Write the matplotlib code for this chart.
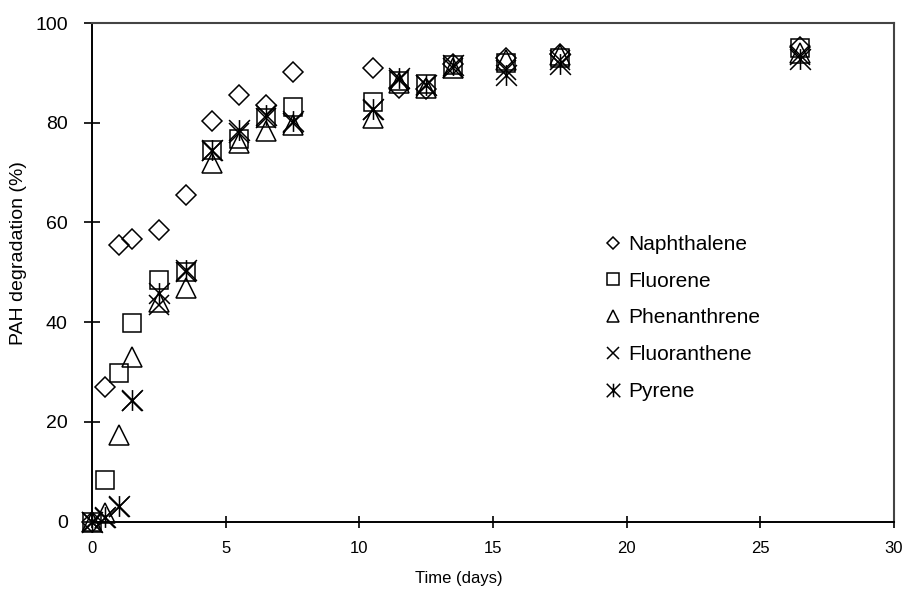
import matplotlib
matplotlib.use("Agg")
import matplotlib.pyplot as plt
from matplotlib.path import Path

plt.rcParams['font.family'] = ['Liberation Sans', 'DejaVu Sans']

# ---- data ----
time_days = [0, 0.5, 1, 1.5, 2.5, 3.5, 4.5, 5.5, 6.5, 7.5, 10.5, 11.5, 12.5, 13.5, 15.5, 17.5, 26.5]
naphthalene = [0, 27.0, 55.5, 56.7, 58.4, 65.6, 80.3, 85.6, 83.6, 90.1, 90.9, 87.0, 86.8, 91.8, 93.0, 93.8, 95.2]
fluorene = [0, 8.4, 29.8, 39.9, 48.5, 50.0, 74.5, 76.7, 81.0, 83.2, 84.2, 88.3, 87.8, 91.5, 92.0, 93.0, 95.0]
phenanthrene = [0, 1.8, 17.4, 33.1, 44.0, 46.8, 72.0, 76.0, 78.3, 79.6, 81.0, 88.0, 87.0, 91.0, 92.5, 93.5, 94.0]
fluoranthene = [0, 0.8, 3.0, 24.3, 43.5, 50.0, 74.3, 78.0, 81.0, 80.0, 82.5, 88.5, 87.5, 91.0, 90.5, 92.5, 93.5]
pyrene = [0, 1.0, 3.2, 24.5, 45.8, 50.5, 74.5, 78.5, 81.5, 80.3, 82.8, 89.0, 87.5, 91.5, 89.6, 91.8, 92.8]

series_names = ["Naphthalene", "Fluorene", "Phenanthrene", "Fluoranthene", "Pyrene"]
x_ticks = [0, 5, 10, 15, 20, 25, 30]
y_ticks = [0, 20, 40, 60, 80, 100]

# asterisk marker: X plus vertical bar
ast = Path([(-1, -1), (1, 1), (-1, 1), (1, -1), (0, -1), (0, 1)],
           [Path.MOVETO, Path.LINETO, Path.MOVETO, Path.LINETO, Path.MOVETO, Path.LINETO])

styles = [
    dict(marker='D', ms=10.0),
    dict(marker='s', ms=13.0),
    dict(marker='^', ms=14.0),
    dict(marker='x', ms=14.0),
    dict(marker=ast, ms=15.0),
]
values = [naphthalene, fluorene, phenanthrene, fluoranthene, pyrene]

fig = plt.figure(figsize=(9.06, 5.92), dpi=100)
ax = fig.add_axes([92/906, 1-521.7/592, (894-92)/906, (521.7-23)/592])

handles = []
for name, vals, st in zip(series_names, values, styles):
    h, = ax.plot(time_days, vals, linestyle='none', marker=st['marker'], ms=st['ms'],
                 mfc='none', mec='black', mew=1.1, label=name, clip_on=False)
    handles.append(h)

ax.set_xlim(0, 30)
ax.set_ylim(0, 100)
ax.set_xticks(x_ticks)
ax.set_yticks(y_ticks)

for s in ['left', 'bottom']:
    ax.spines[s].set_color('black')
    ax.spines[s].set_linewidth(1.4)
for s in ['top', 'right']:
    ax.spines[s].set_color('#444444')
    ax.spines[s].set_linewidth(1.5)

ax.tick_params(axis='y', direction='inout', length=11, width=1.2, pad=12, labelsize=14)
ax.tick_params(axis='x', direction='inout', length=8.5, width=1.2, pad=10, labelsize=12)

ax.set_xlabel("Time (days)", fontsize=12)
ax.set_ylabel("PAH degradation (%)", fontsize=14)
# label positions in axes coordinates
ax.xaxis.set_label_coords((459 - 92) / 802, -(578 - 521.7) / 498.7)
ax.yaxis.set_label_coords(-(92 - 18) / 802, (521.7 - 253) / 498.7)
ax.xaxis.label.set_va('center')
ax.yaxis.label.set_va('center')

leg = ax.legend(handles=handles, loc='upper left', bbox_to_anchor=(605/906, 1-235/592),
                bbox_transform=fig.transFigure, frameon=False, fontsize=15,
                markerscale=0.65, handlelength=0.8, handletextpad=0.3,
                labelspacing=0.85, borderpad=0, borderaxespad=0)

fig.savefig("out.png", dpi=100)
